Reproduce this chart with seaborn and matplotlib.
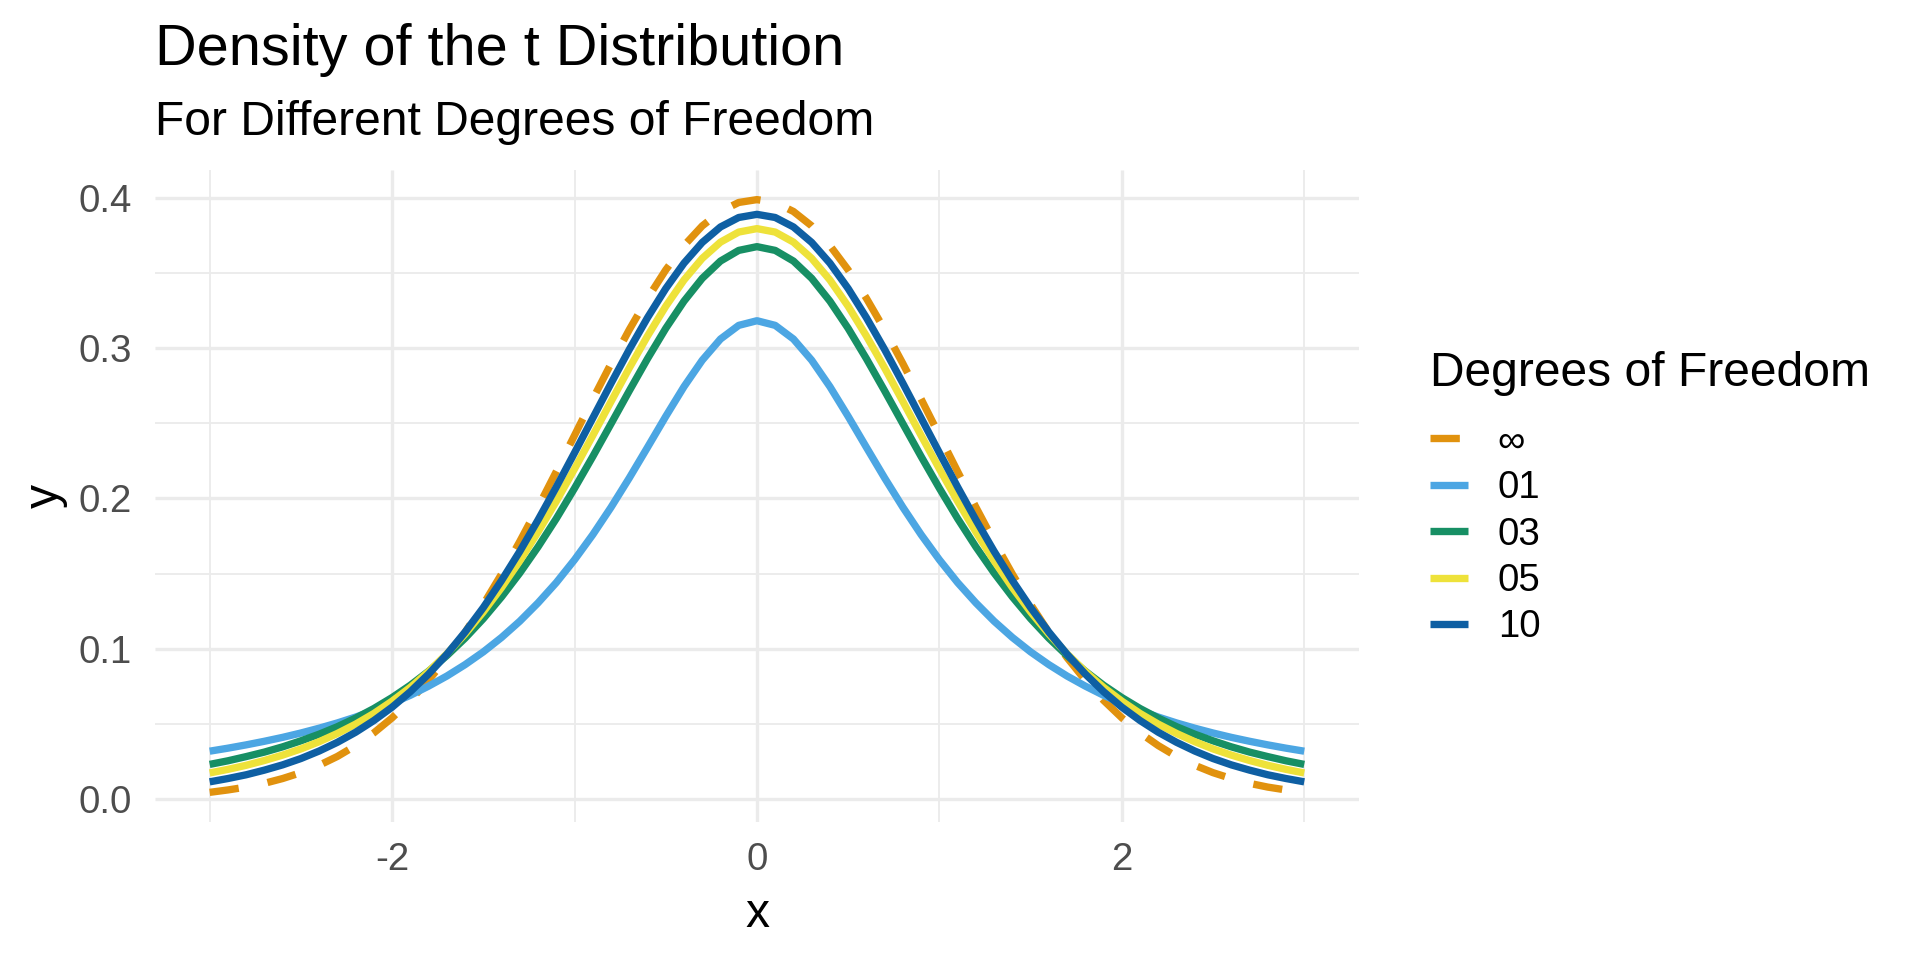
import numpy as np
import pandas as pd
import seaborn as sns
import matplotlib
matplotlib.use('Agg')
import matplotlib.pyplot as plt
from matplotlib.ticker import MultipleLocator

# ============================== values ==============================
x_vals = [-3.0, -2.9, -2.8, -2.7, -2.6, -2.5, -2.4, -2.3, -2.2, -2.1,
          -2.0, -1.9, -1.8, -1.7, -1.6, -1.5, -1.4, -1.3, -1.2, -1.1,
          -1.0, -0.9, -0.8, -0.7, -0.6, -0.5, -0.4, -0.3, -0.2, -0.1,
          0.0,
          0.1, 0.2, 0.3, 0.4, 0.5, 0.6, 0.7, 0.8, 0.9, 1.0,
          1.1, 1.2, 1.3, 1.4, 1.5, 1.6, 1.7, 1.8, 1.9, 2.0,
          2.1, 2.2, 2.3, 2.4, 2.5, 2.6, 2.7, 2.8, 2.9, 3.0]

dens_inf = [0.0044, 0.0060, 0.0079, 0.0104, 0.0136, 0.0175, 0.0224, 0.0283, 0.0355, 0.0440,
            0.0540, 0.0656, 0.0790, 0.0940, 0.1109, 0.1295, 0.1497, 0.1714, 0.1942, 0.2179,
            0.2420, 0.2661, 0.2897, 0.3123, 0.3332, 0.3521, 0.3683, 0.3814, 0.3910, 0.3970,
            0.3989,
            0.3970, 0.3910, 0.3814, 0.3683, 0.3521, 0.3332, 0.3123, 0.2897, 0.2661, 0.2420,
            0.2179, 0.1942, 0.1714, 0.1497, 0.1295, 0.1109, 0.0940, 0.0790, 0.0656, 0.0540,
            0.0440, 0.0355, 0.0283, 0.0224, 0.0175, 0.0136, 0.0104, 0.0079, 0.0060, 0.0044]
dens_01 = [0.0318, 0.0338, 0.0360, 0.0384, 0.0410, 0.0439, 0.0471, 0.0506, 0.0545, 0.0588,
           0.0637, 0.0690, 0.0751, 0.0818, 0.0894, 0.0979, 0.1075, 0.1183, 0.1305, 0.1440,
           0.1592, 0.1759, 0.1941, 0.2136, 0.2340, 0.2546, 0.2744, 0.2920, 0.3061, 0.3152,
           0.3183,
           0.3152, 0.3061, 0.2920, 0.2744, 0.2546, 0.2340, 0.2136, 0.1941, 0.1759, 0.1592,
           0.1440, 0.1305, 0.1183, 0.1075, 0.0979, 0.0894, 0.0818, 0.0751, 0.0690, 0.0637,
           0.0588, 0.0545, 0.0506, 0.0471, 0.0439, 0.0410, 0.0384, 0.0360, 0.0338, 0.0318]
dens_03 = [0.0230, 0.0254, 0.0282, 0.0312, 0.0347, 0.0387, 0.0431, 0.0481, 0.0538, 0.0602,
           0.0675, 0.0757, 0.0850, 0.0954, 0.1070, 0.1200, 0.1345, 0.1504, 0.1678, 0.1866,
           0.2068, 0.2279, 0.2497, 0.2716, 0.2930, 0.3132, 0.3313, 0.3465, 0.3580, 0.3651,
           0.3676,
           0.3651, 0.3580, 0.3465, 0.3313, 0.3132, 0.2930, 0.2716, 0.2497, 0.2279, 0.2068,
           0.1866, 0.1678, 0.1504, 0.1345, 0.1200, 0.1070, 0.0954, 0.0850, 0.0757, 0.0675,
           0.0602, 0.0538, 0.0481, 0.0431, 0.0387, 0.0347, 0.0312, 0.0282, 0.0254, 0.0230]
dens_05 = [0.0173, 0.0197, 0.0224, 0.0256, 0.0292, 0.0333, 0.0381, 0.0436, 0.0498, 0.0569,
           0.0651, 0.0743, 0.0848, 0.0966, 0.1098, 0.1245, 0.1407, 0.1585, 0.1777, 0.1981,
           0.2197, 0.2419, 0.2645, 0.2868, 0.3081, 0.3279, 0.3454, 0.3598, 0.3706, 0.3773,
           0.3796,
           0.3773, 0.3706, 0.3598, 0.3454, 0.3279, 0.3081, 0.2868, 0.2645, 0.2419, 0.2197,
           0.1981, 0.1777, 0.1585, 0.1407, 0.1245, 0.1098, 0.0966, 0.0848, 0.0743, 0.0651,
           0.0569, 0.0498, 0.0436, 0.0381, 0.0333, 0.0292, 0.0256, 0.0224, 0.0197, 0.0173]
dens_10 = [0.0114, 0.0136, 0.0161, 0.0192, 0.0227, 0.0269, 0.0319, 0.0377, 0.0444, 0.0522,
           0.0611, 0.0714, 0.0831, 0.0963, 0.1111, 0.1274, 0.1454, 0.1648, 0.1857, 0.2076,
           0.2304, 0.2535, 0.2766, 0.2991, 0.3203, 0.3397, 0.3566, 0.3704, 0.3807, 0.3870,
           0.3891,
           0.3870, 0.3807, 0.3704, 0.3566, 0.3397, 0.3203, 0.2991, 0.2766, 0.2535, 0.2304,
           0.2076, 0.1857, 0.1648, 0.1454, 0.1274, 0.1111, 0.0963, 0.0831, 0.0714, 0.0611,
           0.0522, 0.0444, 0.0377, 0.0319, 0.0269, 0.0227, 0.0192, 0.0161, 0.0136, 0.0114]

df_labels = ['\u221e', '01', '03', '05', '10']
df_colors = ['#E1920E', '#4CA6E3', '#178F64', '#EEE23A', '#0E5FA3']

# long table for seaborn
frames = []
for lab, dens in zip(df_labels, [dens_inf, dens_01, dens_03, dens_05, dens_10]):
    frames.append(pd.DataFrame({'x': x_vals, 'y': dens, 'Degrees of Freedom': lab}))
plot_df = pd.concat(frames, ignore_index=True)

# ============================== plotting ==============================
sns.set_theme(style='white')
plt.rcParams['font.family'] = ['Liberation Sans', 'DejaVu Sans']
plt.rcParams['text.color'] = 'black'
plt.rcParams['axes.labelcolor'] = 'black'
plt.rcParams['lines.solid_capstyle'] = 'butt'
plt.rcParams['lines.dash_capstyle'] = 'butt'

fs_big = 28.8    # axis titles, subtitle, legend title
fs_small = 23.0  # tick labels, legend labels

fig = plt.figure(figsize=(16, 8), dpi=120)
ax = fig.add_axes([0.0807, 0.1438, 0.7078 - 0.0807, 0.8229 - 0.1438])

line_w = 4.4
dash_map = {'\u221e': (4, 4), '01': '', '03': '', '05': '', '10': ''}
sns.lineplot(data=plot_df, x='x', y='y', hue='Degrees of Freedom', style='Degrees of Freedom',
             hue_order=df_labels, style_order=df_labels, palette=dict(zip(df_labels, df_colors)),
             dashes=dash_map, linewidth=line_w, ax=ax, sort=False)

ax.set_xlim(-3.3, 3.3)
ax.set_ylim(-0.0153, 0.4186)
ax.xaxis.set_minor_locator(MultipleLocator(1))
ax.yaxis.set_minor_locator(MultipleLocator(0.05))
ax.set_yticks([0.0, 0.1, 0.2, 0.3, 0.4])
ax.set_yticklabels(['0.0', '0.1', '0.2', '0.3', '0.4'])
ax.set_xticks([-2, 0, 2])
ax.set_xticklabels(['-2', '0', '2'])

ax.grid(which='major', color='#EBEBEB', linewidth=2.0)
ax.grid(which='minor', color='#EBEBEB', linewidth=1.1)
ax.set_axisbelow(True)
for sp in ax.spines.values():
    sp.set_visible(False)

ax.tick_params(axis='both', which='both', length=0, labelsize=fs_small, labelcolor='#4D4D4D')
ax.tick_params(axis='x', pad=12)
ax.tick_params(axis='y', pad=14)

ax.set_xlabel('x', fontsize=fs_big, color='black')
ax.set_ylabel('y', fontsize=fs_big, color='black')
ax.xaxis.label.set_va('baseline')
ax.xaxis.set_label_coords(0.5, (822 - 927) / 652)
ax.yaxis.set_label_coords((68 - 155) / 1204, 0.5)

fig.text(0.0807, 1 - 65 / 960, 'Density of the t Distribution', fontsize=34.6, va='baseline', ha='left',
         color='black')
fig.text(0.0807, 1 - 135 / 960, 'For Different Degrees of Freedom', fontsize=fs_big, va='baseline', ha='left',
         color='black')

sns.move_legend(ax, 'upper left', bbox_to_anchor=(0.7236, 0.6767), bbox_transform=fig.transFigure,
                frameon=False, title='Degrees of Freedom', title_fontsize=fs_big, fontsize=fs_small,
                borderpad=1.07, borderaxespad=0, handlelength=0.98, handletextpad=0.78,
                labelspacing=0.27, alignment='left')
leg = ax.get_legend()
leg._legend_box.sep = 16.5  # gap between legend title and keys, in points
for h in leg.legend_handles:
    h.set_linewidth(line_w)
for t in leg.get_texts():
    t.set_color('black')
leg.get_title().set_color('black')

fig.savefig('out.png', dpi=120)
